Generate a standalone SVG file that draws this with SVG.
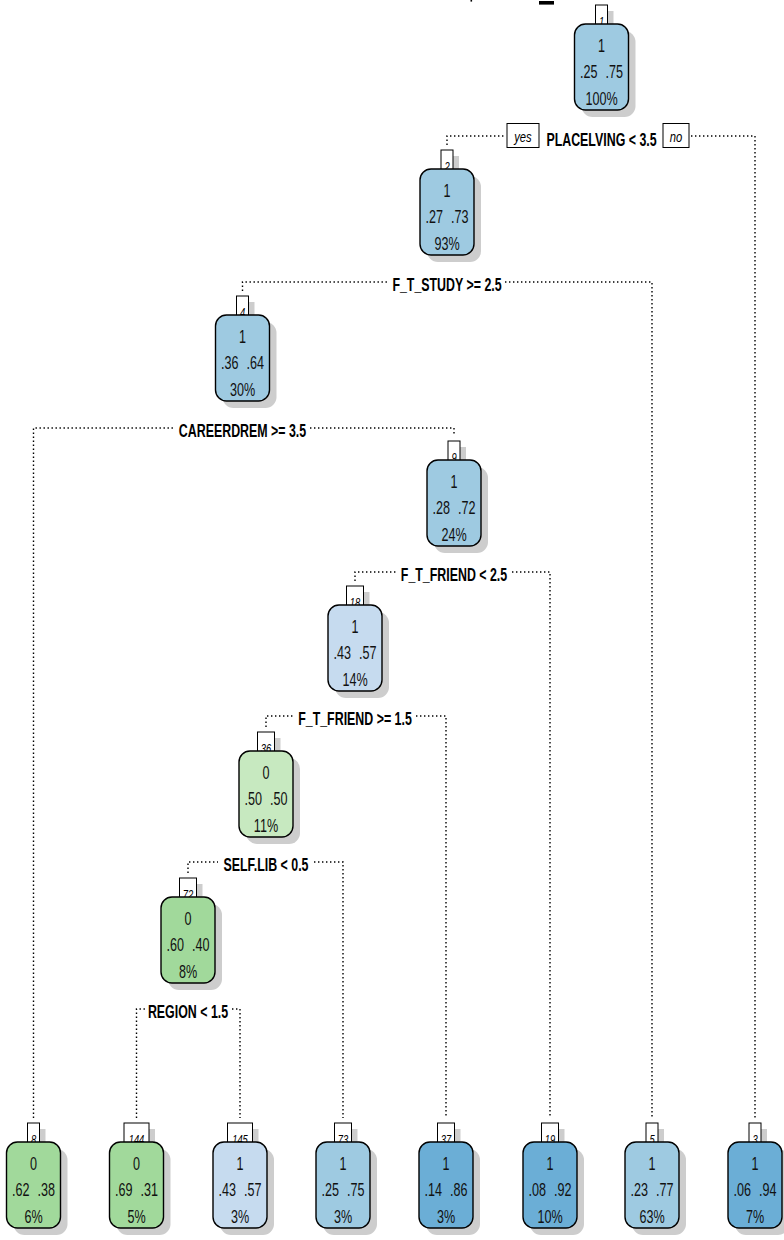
<svg xmlns="http://www.w3.org/2000/svg" width="784" height="1240" viewBox="0 0 784 1240">
<style>
  .bg{fill:#ffffff}
  .sh{fill:#cdcdcd}
  .box{stroke:#000;stroke-width:1.4}
  .lbox{fill:#fff;stroke:#000;stroke-width:1}
  .b1{fill:#c6dbef}.b2{fill:#9ecae1}.b3{fill:#6baed6}.g1{fill:#c7e9c0}.g2{fill:#a1d99b}
  .nt{font-family:"Liberation Sans",Arial,sans-serif;font-size:17.5px;fill:#111}
  .mid{text-anchor:middle}.end{text-anchor:end}.st{text-anchor:start}
  .lab{font-family:"Liberation Sans",Arial,sans-serif;font-size:12.5px;font-style:italic;text-anchor:middle;fill:#000}
  .split{font-family:"Liberation Sans",Arial,sans-serif;font-size:18.5px;font-weight:bold;text-anchor:middle;fill:#000}
  .yn{font-family:"Liberation Sans",Arial,sans-serif;font-size:15px;font-style:italic;text-anchor:middle;fill:#000}
  .dot{fill:none;stroke:#000;stroke-width:1.4;stroke-dasharray:1.4 2.6}
</style>
<defs>
  <rect id="shbox" x="-20" y="7" width="54" height="86" rx="11"/>
</defs>
<rect class="bg" x="0" y="0" width="784" height="1240"/>
<g id="title-remnant">
  <rect x="470.5" y="0" width="1.6" height="1.6" fill="#000"/>
  <rect x="539" y="1" width="15" height="3.6" fill="#000"/>
</g>

<g id="connectors">
  <path class="dot" d="M447,145 V136 H505"/>
  <path class="dot" d="M691,136 H755 V1118"/>
  <path class="dot" d="M242.5,291 V282 H389"/>
  <path class="dot" d="M505,282 H652 V1118"/>
  <path class="dot" d="M33.5,1118 V428 H175"/>
  <path class="dot" d="M310,428 H454 V436"/>
  <path class="dot" d="M355,581 V572 H396"/>
  <path class="dot" d="M512,572 H550 V1118"/>
  <path class="dot" d="M266,727 V716 H294"/>
  <path class="dot" d="M416,716 H446 V1118"/>
  <path class="dot" d="M188,873 V862 H218"/>
  <path class="dot" d="M314,862 H343 V1118"/>
  <path class="dot" d="M136.5,1118 V1009 H145"/>
  <path class="dot" d="M232,1009 H240 V1118"/>
  <g id="yes-no">
    <rect class="lbox" x="507" y="123.5" width="32" height="24"/>
    <text class="yn" transform="translate(523,142) scale(0.75,1)">yes</text>
    <rect class="lbox" x="663" y="123.5" width="26" height="24"/>
    <text class="yn" transform="translate(676,142) scale(0.75,1)">no</text>
  </g>
  <text class="split" transform="translate(601.5,145.5) scale(0.67,1)">PLACELVING &lt; 3.5</text>
  <text class="split" transform="translate(447,291) scale(0.67,1)">F_T_STUDY &gt;= 2.5</text>
  <text class="split" transform="translate(242.5,437) scale(0.67,1)">CAREERDREM &gt;= 3.5</text>
  <text class="split" transform="translate(454,581) scale(0.67,1)">F_T_FRIEND &lt; 2.5</text>
  <text class="split" transform="translate(355,725) scale(0.67,1)">F_T_FRIEND &gt;= 1.5</text>
  <text class="split" transform="translate(266,871) scale(0.67,1)">SELF.LIB &lt; 0.5</text>
  <text class="split" transform="translate(188,1018) scale(0.67,1)">REGION &lt; 1.5</text>
</g>

<g id="node-1" transform="translate(601.5,24)">
  <rect class="sh" x="0" y="-13" width="12" height="19"/>
  <use href="#shbox" class="sh"/>
  <rect class="lbox" x="-6" y="-19" width="12" height="20"/>
  <text class="lab" transform="translate(0,1.5) scale(0.75,1)">1</text>
  <rect class="box b2" x="-27" y="0" width="54" height="86" rx="11"/>
  <g class="nt" transform="scale(0.72,1)">
    <text class="mid" x="0" y="28.5">1</text>
    <text class="end" x="-5.6" y="54.5">.25</text>
    <text class="st" x="5.6" y="54.5">.75</text>
    <text class="mid" x="0" y="81">100%</text>
  </g>
</g>

<g id="node-2" transform="translate(447,169)">
  <rect class="sh" x="0" y="-13" width="12" height="19"/>
  <use href="#shbox" class="sh"/>
  <rect class="lbox" x="-6" y="-19" width="12" height="20"/>
  <text class="lab" transform="translate(0,1.5) scale(0.75,1)">2</text>
  <rect class="box b2" x="-27" y="0" width="54" height="86" rx="11"/>
  <g class="nt" transform="scale(0.72,1)">
    <text class="mid" x="0" y="28.5">1</text>
    <text class="end" x="-5.6" y="54.5">.27</text>
    <text class="st" x="5.6" y="54.5">.73</text>
    <text class="mid" x="0" y="81">93%</text>
  </g>
</g>

<g id="node-4" transform="translate(242.5,315)">
  <rect class="sh" x="0" y="-13" width="12" height="19"/>
  <use href="#shbox" class="sh"/>
  <rect class="lbox" x="-6" y="-19" width="12" height="20"/>
  <text class="lab" transform="translate(0,1.5) scale(0.75,1)">4</text>
  <rect class="box b2" x="-27" y="0" width="54" height="86" rx="11"/>
  <g class="nt" transform="scale(0.72,1)">
    <text class="mid" x="0" y="28.5">1</text>
    <text class="end" x="-5.6" y="54.5">.36</text>
    <text class="st" x="5.6" y="54.5">.64</text>
    <text class="mid" x="0" y="81">30%</text>
  </g>
</g>

<g id="node-9" transform="translate(454,460)">
  <rect class="sh" x="0" y="-13" width="12" height="19"/>
  <use href="#shbox" class="sh"/>
  <rect class="lbox" x="-6" y="-19" width="12" height="20"/>
  <text class="lab" transform="translate(0,1.5) scale(0.75,1)">9</text>
  <rect class="box b2" x="-27" y="0" width="54" height="86" rx="11"/>
  <g class="nt" transform="scale(0.72,1)">
    <text class="mid" x="0" y="28.5">1</text>
    <text class="end" x="-5.6" y="54.5">.28</text>
    <text class="st" x="5.6" y="54.5">.72</text>
    <text class="mid" x="0" y="81">24%</text>
  </g>
</g>

<g id="node-18" transform="translate(355,605)">
  <rect class="sh" x="-2.5" y="-13" width="17" height="19"/>
  <use href="#shbox" class="sh"/>
  <rect class="lbox" x="-8.5" y="-19" width="17" height="20"/>
  <text class="lab" transform="translate(0,1.5) scale(0.75,1)">18</text>
  <rect class="box b1" x="-27" y="0" width="54" height="86" rx="11"/>
  <g class="nt" transform="scale(0.72,1)">
    <text class="mid" x="0" y="28.5">1</text>
    <text class="end" x="-5.6" y="54.5">.43</text>
    <text class="st" x="5.6" y="54.5">.57</text>
    <text class="mid" x="0" y="81">14%</text>
  </g>
</g>

<g id="node-36" transform="translate(266,751)">
  <rect class="sh" x="-2.5" y="-13" width="17" height="19"/>
  <use href="#shbox" class="sh"/>
  <rect class="lbox" x="-8.5" y="-19" width="17" height="20"/>
  <text class="lab" transform="translate(0,1.5) scale(0.75,1)">36</text>
  <rect class="box g1" x="-27" y="0" width="54" height="86" rx="11"/>
  <g class="nt" transform="scale(0.72,1)">
    <text class="mid" x="0" y="28.5">0</text>
    <text class="end" x="-5.6" y="54.5">.50</text>
    <text class="st" x="5.6" y="54.5">.50</text>
    <text class="mid" x="0" y="81">11%</text>
  </g>
</g>

<g id="node-72" transform="translate(188,897)">
  <rect class="sh" x="-2.5" y="-13" width="17" height="19"/>
  <use href="#shbox" class="sh"/>
  <rect class="lbox" x="-8.5" y="-19" width="17" height="20"/>
  <text class="lab" transform="translate(0,1.5) scale(0.75,1)">72</text>
  <rect class="box g2" x="-27" y="0" width="54" height="86" rx="11"/>
  <g class="nt" transform="scale(0.72,1)">
    <text class="mid" x="0" y="28.5">0</text>
    <text class="end" x="-5.6" y="54.5">.60</text>
    <text class="st" x="5.6" y="54.5">.40</text>
    <text class="mid" x="0" y="81">8%</text>
  </g>
</g>

<g id="leaf-8" transform="translate(33.5,1142)">
  <rect class="sh" x="0" y="-13" width="12" height="19"/>
  <use href="#shbox" class="sh"/>
  <rect class="lbox" x="-6" y="-19" width="12" height="20"/>
  <text class="lab" transform="translate(0,1.5) scale(0.75,1)">8</text>
  <rect class="box g2" x="-27" y="0" width="54" height="86" rx="11"/>
  <g class="nt" transform="scale(0.72,1)">
    <text class="mid" x="0" y="28.5">0</text>
    <text class="end" x="-5.6" y="54.5">.62</text>
    <text class="st" x="5.6" y="54.5">.38</text>
    <text class="mid" x="0" y="81">6%</text>
  </g>
</g>

<g id="leaf-144" transform="translate(136.5,1142)">
  <rect class="sh" x="-6.5" y="-13" width="25" height="19"/>
  <use href="#shbox" class="sh"/>
  <rect class="lbox" x="-12.5" y="-19" width="25" height="20"/>
  <text class="lab" transform="translate(0,1.5) scale(0.75,1)">144</text>
  <rect class="box g2" x="-27" y="0" width="54" height="86" rx="11"/>
  <g class="nt" transform="scale(0.72,1)">
    <text class="mid" x="0" y="28.5">0</text>
    <text class="end" x="-5.6" y="54.5">.69</text>
    <text class="st" x="5.6" y="54.5">.31</text>
    <text class="mid" x="0" y="81">5%</text>
  </g>
</g>

<g id="leaf-145" transform="translate(240,1142)">
  <rect class="sh" x="-6.5" y="-13" width="25" height="19"/>
  <use href="#shbox" class="sh"/>
  <rect class="lbox" x="-12.5" y="-19" width="25" height="20"/>
  <text class="lab" transform="translate(0,1.5) scale(0.75,1)">145</text>
  <rect class="box b1" x="-27" y="0" width="54" height="86" rx="11"/>
  <g class="nt" transform="scale(0.72,1)">
    <text class="mid" x="0" y="28.5">1</text>
    <text class="end" x="-5.6" y="54.5">.43</text>
    <text class="st" x="5.6" y="54.5">.57</text>
    <text class="mid" x="0" y="81">3%</text>
  </g>
</g>

<g id="leaf-73" transform="translate(343,1142)">
  <rect class="sh" x="-2.5" y="-13" width="17" height="19"/>
  <use href="#shbox" class="sh"/>
  <rect class="lbox" x="-8.5" y="-19" width="17" height="20"/>
  <text class="lab" transform="translate(0,1.5) scale(0.75,1)">73</text>
  <rect class="box b2" x="-27" y="0" width="54" height="86" rx="11"/>
  <g class="nt" transform="scale(0.72,1)">
    <text class="mid" x="0" y="28.5">1</text>
    <text class="end" x="-5.6" y="54.5">.25</text>
    <text class="st" x="5.6" y="54.5">.75</text>
    <text class="mid" x="0" y="81">3%</text>
  </g>
</g>

<g id="leaf-37" transform="translate(446,1142)">
  <rect class="sh" x="-2.5" y="-13" width="17" height="19"/>
  <use href="#shbox" class="sh"/>
  <rect class="lbox" x="-8.5" y="-19" width="17" height="20"/>
  <text class="lab" transform="translate(0,1.5) scale(0.75,1)">37</text>
  <rect class="box b3" x="-27" y="0" width="54" height="86" rx="11"/>
  <g class="nt" transform="scale(0.72,1)">
    <text class="mid" x="0" y="28.5">1</text>
    <text class="end" x="-5.6" y="54.5">.14</text>
    <text class="st" x="5.6" y="54.5">.86</text>
    <text class="mid" x="0" y="81">3%</text>
  </g>
</g>

<g id="leaf-19" transform="translate(550,1142)">
  <rect class="sh" x="-2.5" y="-13" width="17" height="19"/>
  <use href="#shbox" class="sh"/>
  <rect class="lbox" x="-8.5" y="-19" width="17" height="20"/>
  <text class="lab" transform="translate(0,1.5) scale(0.75,1)">19</text>
  <rect class="box b3" x="-27" y="0" width="54" height="86" rx="11"/>
  <g class="nt" transform="scale(0.72,1)">
    <text class="mid" x="0" y="28.5">1</text>
    <text class="end" x="-5.6" y="54.5">.08</text>
    <text class="st" x="5.6" y="54.5">.92</text>
    <text class="mid" x="0" y="81">10%</text>
  </g>
</g>

<g id="leaf-5" transform="translate(652,1142)">
  <rect class="sh" x="0" y="-13" width="12" height="19"/>
  <use href="#shbox" class="sh"/>
  <rect class="lbox" x="-6" y="-19" width="12" height="20"/>
  <text class="lab" transform="translate(0,1.5) scale(0.75,1)">5</text>
  <rect class="box b2" x="-27" y="0" width="54" height="86" rx="11"/>
  <g class="nt" transform="scale(0.72,1)">
    <text class="mid" x="0" y="28.5">1</text>
    <text class="end" x="-5.6" y="54.5">.23</text>
    <text class="st" x="5.6" y="54.5">.77</text>
    <text class="mid" x="0" y="81">63%</text>
  </g>
</g>

<g id="leaf-3" transform="translate(755,1142)">
  <rect class="sh" x="0" y="-13" width="12" height="19"/>
  <use href="#shbox" class="sh"/>
  <rect class="lbox" x="-6" y="-19" width="12" height="20"/>
  <text class="lab" transform="translate(0,1.5) scale(0.75,1)">3</text>
  <rect class="box b3" x="-27" y="0" width="54" height="86" rx="11"/>
  <g class="nt" transform="scale(0.72,1)">
    <text class="mid" x="0" y="28.5">1</text>
    <text class="end" x="-5.6" y="54.5">.06</text>
    <text class="st" x="5.6" y="54.5">.94</text>
    <text class="mid" x="0" y="81">7%</text>
  </g>
</g>
</svg>
